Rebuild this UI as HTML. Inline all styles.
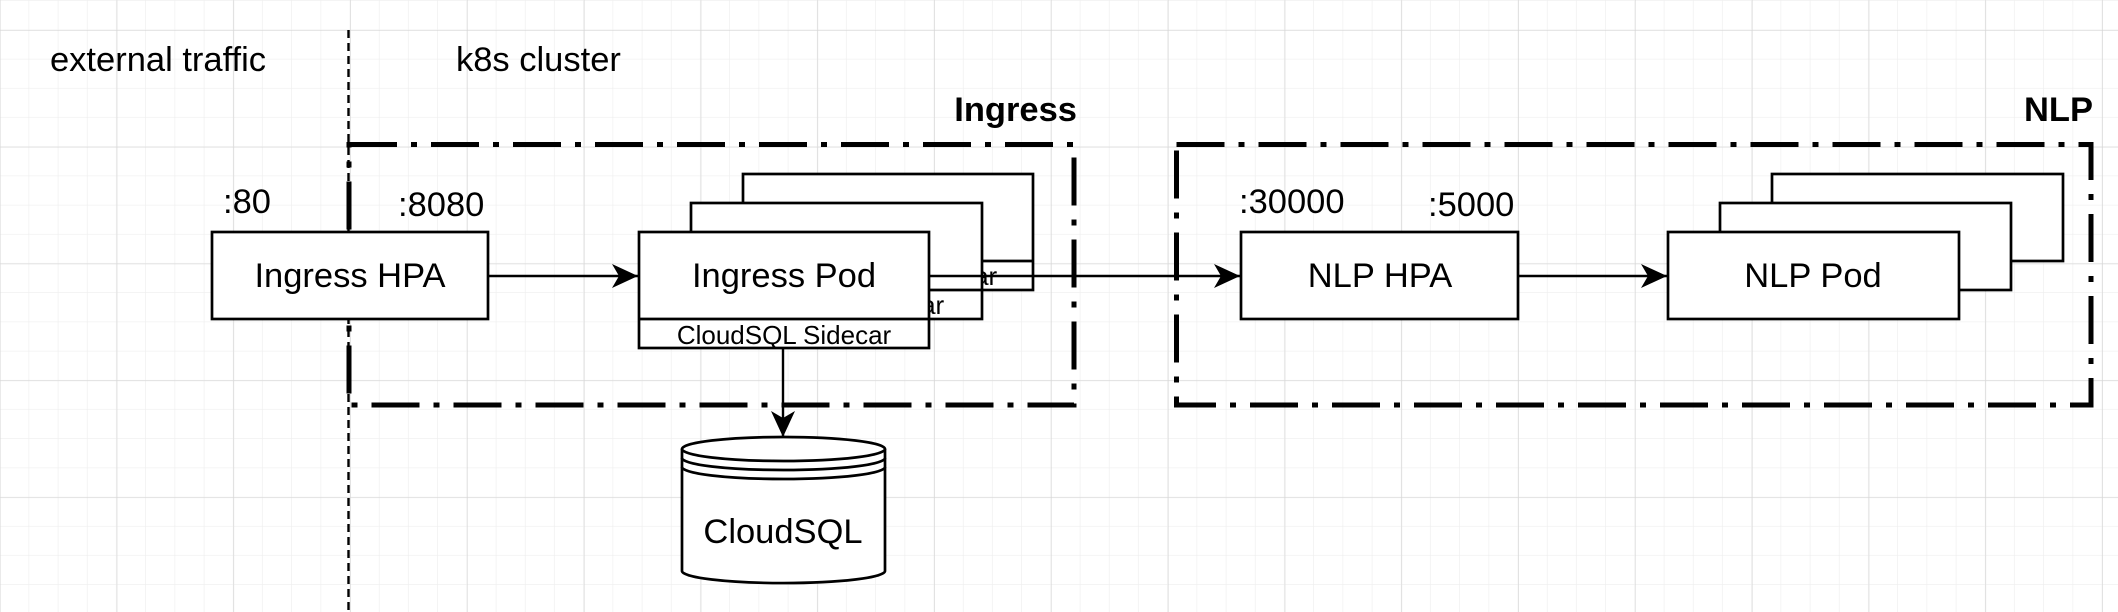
<!DOCTYPE html>
<html><head><meta charset="utf-8"><style>
html,body{margin:0;padding:0;background:#fff;}
svg{display:block;font-family:"Liberation Sans",Arial,sans-serif;}
</style></head><body>
<svg width="2118" height="612" viewBox="0 0 2118 612" xmlns="http://www.w3.org/2000/svg">
<defs>
<pattern id="minor" x="0" y="1" width="29.2" height="29.2" patternUnits="userSpaceOnUse">
<path d="M29.2 0V29.2M0 29.2H29.2" stroke="#eeeeee" stroke-width="1.3" fill="none"/>
</pattern>
<pattern id="major" x="0.5" y="30" width="116.8" height="116.8" patternUnits="userSpaceOnUse">
<path d="M116.8 0V116.8M0 0H116.8" stroke="#d6d6d6" stroke-width="1.3" fill="none"/>
</pattern>
<marker id="ah" markerWidth="28" markerHeight="26" refX="26" refY="12" orient="auto" markerUnits="userSpaceOnUse">
<path d="M0 0L26 12L0 24L7 12Z" fill="#000"/>
</marker>
</defs>
<rect width="2118" height="612" fill="#fff"/>
<rect width="2118" height="612" fill="url(#minor)"/>
<rect width="2118" height="612" fill="url(#major)"/>

<text x="50" y="71" font-size="34.5">external traffic</text>
<text x="456" y="71" font-size="34.5">k8s cluster</text>
<line x1="348.5" y1="30" x2="348.5" y2="612" stroke="#000" stroke-width="2.4" stroke-dasharray="8 5"/>

<g fill="none" stroke="#000" stroke-width="5" stroke-dasharray="48 14 6 14">
<rect x="349" y="144.5" width="725" height="260.5"/>
<rect x="1176.5" y="144.5" width="914.5" height="260.5"/>
</g>
<text x="1077" y="121" font-size="34.5" font-weight="bold" text-anchor="end">Ingress</text>
<text x="2093" y="121" font-size="34.5" font-weight="bold" text-anchor="end">NLP</text>

<text x="223" y="213" font-size="34.5">:80</text>
<text x="398" y="216" font-size="34.5">:8080</text>
<text x="1239" y="213" font-size="34.5">:30000</text>
<text x="1428" y="216" font-size="34.5">:5000</text>

<g stroke="#000" stroke-width="2.7" fill="#fff">
<rect x="212" y="232" width="276" height="87"/>
<rect x="1241" y="232" width="277" height="87"/>
</g>
<text x="350" y="287" font-size="34.5" text-anchor="middle">Ingress HPA</text>
<text x="1380" y="287" font-size="34.5" text-anchor="middle">NLP HPA</text>

<!-- Ingress pods stack -->
<g stroke="#000" stroke-width="2.7" fill="#fff">
<rect x="743" y="174" width="290" height="116"/>
<line x1="743" y1="261" x2="1033" y2="261"/>
</g>
<text x="890" y="285" font-size="26" text-anchor="middle">CloudSQL Sidecar</text>
<g stroke="#000" stroke-width="2.7" fill="#fff">
<rect x="691" y="203" width="291" height="116"/>
<line x1="691" y1="290" x2="982" y2="290"/>
</g>
<text x="837" y="314" font-size="26" text-anchor="middle">CloudSQL Sidecar</text>
<g stroke="#000" stroke-width="2.7" fill="#fff">
<rect x="639" y="232" width="290" height="116"/>
<line x1="639" y1="319" x2="929" y2="319"/>
</g>
<text x="784" y="287" font-size="34.5" text-anchor="middle">Ingress Pod</text>
<text x="784" y="344" font-size="26" text-anchor="middle">CloudSQL Sidecar</text>

<!-- NLP pods stack -->
<g stroke="#000" stroke-width="2.7" fill="#fff">
<rect x="1772" y="174" width="291" height="87"/>
<rect x="1720" y="203" width="291" height="87"/>
<rect x="1668" y="232" width="291" height="87"/>
</g>
<text x="1813" y="287" font-size="34.5" text-anchor="middle">NLP Pod</text>

<!-- connectors -->
<g stroke="#000" stroke-width="2.4" fill="none">
<line x1="488" y1="276" x2="638" y2="276" marker-end="url(#ah)"/>
<line x1="929" y1="276" x2="1240" y2="276" marker-end="url(#ah)"/>
<line x1="1518" y1="276" x2="1667" y2="276" marker-end="url(#ah)"/>
<line x1="783" y1="348" x2="783" y2="437" marker-end="url(#ah)"/>
</g>

<!-- cylinder -->
<g stroke="#000" stroke-width="2.7" fill="#fff">
<path d="M682 449 V571 A101 12 0 0 0 885 571 V449"/>
<ellipse cx="783.5" cy="449" rx="101.5" ry="12"/>
<path d="M682 458 A101.5 12 0 0 0 885 458" fill="none"/>
<path d="M682 467 A101.5 12 0 0 0 885 467" fill="none"/>
</g>
<text x="783" y="543" font-size="34.5" text-anchor="middle">CloudSQL</text>
</svg>
</body></html>
